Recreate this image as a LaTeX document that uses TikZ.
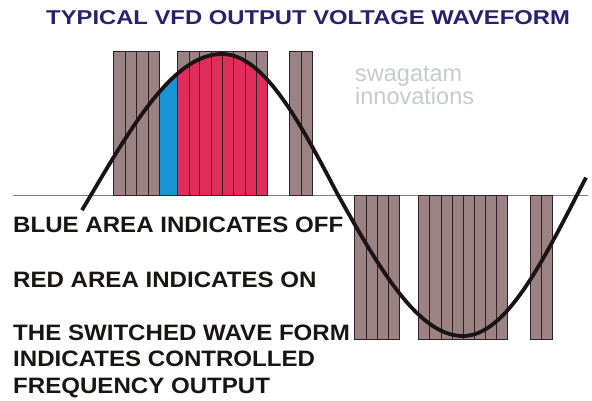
\documentclass[tikz,border=0pt]{standalone}
\usepackage{fontspec}
\setmainfont{Liberation Sans}
\newfontfamily\notefont{Liberation Sans}[FakeStretch=1.08]
\newfontfamily\headfont{Liberation Sans}[FakeStretch=1.19]
\usetikzlibrary{positioning}
\definecolor{bargray}{RGB}{155,130,132}
\definecolor{onred}{RGB}{224,45,90}
\definecolor{offblue}{RGB}{22,150,214}
\definecolor{titleblue}{RGB}{38,34,108}
\definecolor{markgray}{RGB}{200,202,208}
\definecolor{edgedark}{RGB}{50,32,34}
\definecolor{inkblack}{RGB}{26,20,20}

\tikzset{
    heading/.style={font=\headfont\fontsize{20}{22}\selectfont\bfseries, text=titleblue, inner sep=0pt},
    note/.style={font=\notefont\fontsize{22.3}{26.5}\selectfont\bfseries, text=inkblack, inner sep=0pt},
    watermark/.style={font=\fontsize{23.5}{23}\selectfont, text=markgray, inner sep=0pt, align=left},
    bar/.style={fill=bargray, draw=edgedark, line width=0.8pt}
}

\begin{document}
\begin{tikzpicture}[x=1pt,y=-1pt]
\useasboundingbox (0,0) rectangle (592,401);

% zero line
\draw[gray, line width=0.8pt] (13,195) -- (588,195);

% positive half: switched bars
\filldraw[bar] (113,51) rectangle (159,195);
\filldraw[bar] (177,51) rectangle (267,195);
\filldraw[bar] (289,51) rectangle (312,195);

% blue area (off)
\fill[offblue] (159,195) -- plot[domain=159:177, samples=10] (\x,{195-141*sin(90*(\x-91)/131)}) -- (177,195) -- cycle;
% red area (on)
\fill[onred] (177,195) -- plot[domain=177:222, samples=20] (\x,{195-141*sin(90*(\x-91)/131)})
    -- plot[domain=222:267, samples=20] (\x,{195-141*cos(90*(\x-222)/116)}) -- (267,195) -- cycle;

\foreach \x in {125,136,148} {
    \draw[edgedark, line width=0.8pt] (\x,51) -- (\x,195);
}
\foreach \x in {189,199,211,222,233,245,256} {
    \draw[edgedark, line width=0.8pt] (\x,51) -- (\x,195);
}
\draw[edgedark, line width=0.8pt] (301,51) -- (301,195);
\draw[edgedark, line width=0.8pt] (159,51) -- (159,195) (177,51) -- (177,195);
\draw[edgedark, line width=0.8pt] (159,195) -- (177,195);

% negative half: switched bars
\filldraw[bar] (354,195) rectangle (399,339);
\filldraw[bar] (418,195) rectangle (507,339);
\filldraw[bar] (530,195) rectangle (552,339);
\foreach \x in {366,377,388} {
    \draw[edgedark, line width=0.8pt] (\x,195) -- (\x,339);
}
\foreach \x in {429,441,452,463,474,485,496} {
    \draw[edgedark, line width=0.8pt] (\x,195) -- (\x,339);
}
\draw[edgedark, line width=0.8pt] (541,195) -- (541,339);

% sine wave
\draw[inkblack, line width=3.8pt]
    plot[domain=82:222, samples=50] (\x,{195-141*sin(90*(\x-91)/131)})
 -- plot[domain=222:338, samples=40] (\x,{195-141*cos(90*(\x-222)/116)})
 -- plot[domain=338:463, samples=40] (\x,{195+141*sin(90*(\x-338)/125)})
 -- plot[domain=463:586, samples=40] (\x,{195+141*cos(90*(\x-463)/114)});

% texts
\node[heading, anchor=base east] (title) at (570,25) {TYPICAL VFD OUTPUT VOLTAGE WAVEFORM};
\node[watermark, anchor=base west] (brand) at (355,105) {swagatam\\innovations};
\node[note, anchor=base west] (bluenote) at (13,233) {BLUE AREA INDICATES OFF};
\node[note, anchor=base west] (rednote) at (13,287) {RED AREA INDICATES ON};
\node[note, anchor=base west] (switchnote) at (13,340) {THE SWITCHED WAVE FORM};
\node[note, anchor=base west] (switchnoteb) at (13,366.5) {INDICATES CONTROLLED};
\node[note, anchor=base west] (switchnotec) at (13,393) {FREQUENCY OUTPUT};

\end{tikzpicture}
\end{document}
